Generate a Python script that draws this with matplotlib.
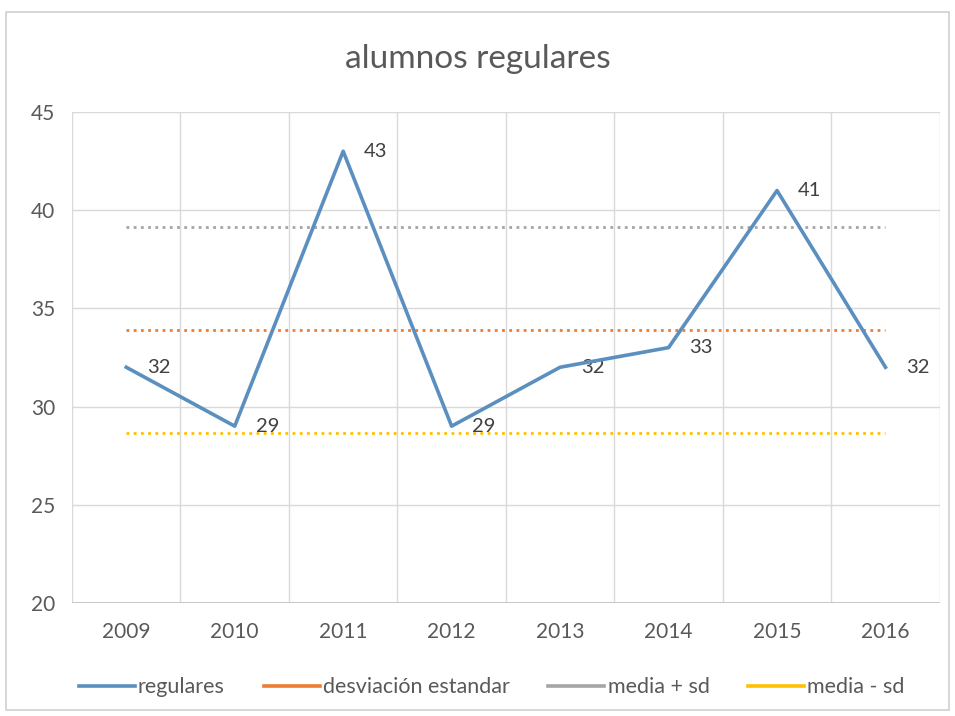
import matplotlib.pyplot as plt
from matplotlib.patches import Rectangle

plt.rcParams['font.family'] = ['Lato', 'DejaVu Sans']

years = ['2009', '2010', '2011', '2012', '2013', '2014', '2015', '2016']
regulares = [32, 29, 43, 29, 32, 33, 41, 32]
desviacion = [33.875] * 8
media_mas_sd = [39.12] * 8
media_menos_sd = [28.63] * 8

txt = '#595959'
grid_c = '#d9d9d9'

fig = plt.figure(figsize=(9.55, 7.16), dpi=100)
fig.patches.append(Rectangle((0.006, 0.008), 0.988, 0.975, transform=fig.transFigure,
                             fill=False, edgecolor='#d0d0d0', lw=1.2))
ax = fig.add_axes([0.0754, 0.158, 0.9086, 0.6856])

x = list(range(len(years)))
ax.plot(x, regulares, color='#5b8fbf', lw=2.6, label='regulares', zorder=4)
ax.plot(x, desviacion, color='#ed7d31', lw=2, ls=(0, (1, 1.6)), label='desviación estandar', zorder=3)
ax.plot(x, media_mas_sd, color='#a5a5a5', lw=2, ls=(0, (1, 1.6)), label='media + sd', zorder=3)
ax.plot(x, media_menos_sd, color='#ffc000', lw=2, ls=(0, (1, 1.6)), label='media - sd', zorder=3)

for xi, v in zip(x, regulares):
    ax.annotate(str(v), (xi, v), xytext=(15, 0), textcoords='offset points',
                ha='left', va='center', fontsize=14.5, color='#404040')

ax.set_xlim(-0.5, 7.5)
ax.set_ylim(20, 45)
ax.set_yticks(range(20, 46, 5))
ax.set_xticks(x)
ax.set_xticklabels(years)
ax.set_xticks([i - 0.5 for i in range(9)], minor=True)
ax.grid(True, which='minor', axis='x', color=grid_c, lw=1)
ax.grid(True, which='major', axis='y', color=grid_c, lw=1)
ax.tick_params(which='both', length=0)
ax.tick_params(axis='x', pad=14, labelsize=15, labelcolor=txt)
ax.tick_params(axis='y', pad=12, labelsize=15, labelcolor=txt)
for s in ax.spines.values():
    s.set_visible(False)
ax.axhline(20, color='#bfbfbf', lw=1.2, zorder=2)

fig.text(0.5, 0.918, 'alumnos regulares', ha='center', va='center', fontsize=24, color=txt)

leg = fig.legend(loc='center', bbox_to_anchor=(0.515, 0.04), ncol=4, frameon=False,
                 fontsize=15.5, handlelength=2.6, handletextpad=0.15, columnspacing=1.8)
for h in leg.get_lines():
    h.set_linestyle('-')
    h.set_linewidth(2.6)
for t in leg.get_texts():
    t.set_color(txt)

fig.savefig('out.png', dpi=100)
